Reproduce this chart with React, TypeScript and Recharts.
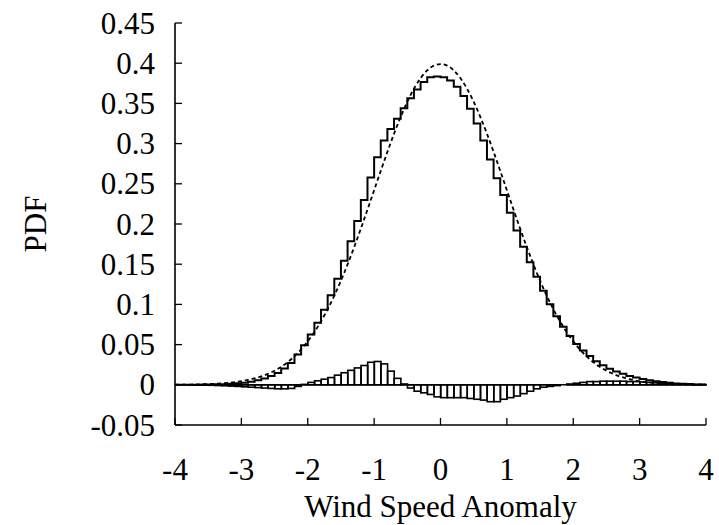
import { ComposedChart, Line, Bar, XAxis, YAxis, ReferenceLine } from "recharts";

// left edges of the 0.1-wide bins, plus the last right edge
const binEdges = [
  -4.0, -3.9, -3.8, -3.7, -3.6, -3.5, -3.4, -3.3, -3.2, -3.1,
  -3.0, -2.9, -2.8, -2.7, -2.6, -2.5, -2.4, -2.3, -2.2, -2.1,
  -2.0, -1.9, -1.8, -1.7, -1.6, -1.5, -1.4, -1.3, -1.2, -1.1,
  -1.0, -0.9, -0.8, -0.7, -0.6, -0.5, -0.4, -0.3, -0.2, -0.1,
  0.0, 0.1, 0.2, 0.3, 0.4, 0.5, 0.6, 0.7, 0.8, 0.9,
  1.0, 1.1, 1.2, 1.3, 1.4, 1.5, 1.6, 1.7, 1.8, 1.9,
  2.0, 2.1, 2.2, 2.3, 2.4, 2.5, 2.6, 2.7, 2.8, 2.9,
  3.0, 3.1, 3.2, 3.3, 3.4, 3.5, 3.6, 3.7, 3.8, 3.9,
  4.0,
];

// dashed reference curve, read at each bin edge
const normalPdf = [
  0.0001, 0.0002, 0.0003, 0.0004, 0.0006, 0.0009, 0.0012, 0.0017, 0.0024, 0.0033,
  0.0044, 0.006, 0.0079, 0.0104, 0.0136, 0.0175, 0.0224, 0.0283, 0.0355, 0.044,
  0.054, 0.0656, 0.079, 0.094, 0.1109, 0.1295, 0.1497, 0.1714, 0.1942, 0.2179,
  0.242, 0.2661, 0.2897, 0.3123, 0.3332, 0.3521, 0.3683, 0.3814, 0.391, 0.397,
  0.3989, 0.397, 0.391, 0.3814, 0.3683, 0.3521, 0.3332, 0.3123, 0.2897, 0.2661,
  0.242, 0.2179, 0.1942, 0.1714, 0.1497, 0.1295, 0.1109, 0.094, 0.079, 0.0656,
  0.054, 0.044, 0.0355, 0.0283, 0.0224, 0.0175, 0.0136, 0.0104, 0.0079, 0.006,
  0.0044, 0.0033, 0.0024, 0.0017, 0.0012, 0.0009, 0.0006, 0.0004, 0.0003, 0.0002,
  0.0001,
];

// step histogram, one value per bin
const histogram = [
  0.0002, 0.0002, 0.0002, 0.0002, 0.0003, 0.0004, 0.0006, 0.0008, 0.0012, 0.0018,
  0.0026, 0.0039, 0.0056, 0.0079, 0.0109, 0.0148, 0.0202, 0.0272, 0.0376, 0.0493,
  0.0626, 0.0771, 0.0933, 0.1113, 0.132, 0.1544, 0.1784, 0.2036, 0.2299, 0.2579,
  0.2831, 0.304, 0.3181, 0.331, 0.3439, 0.3565, 0.3672, 0.3767, 0.3825, 0.3834,
  0.3824, 0.3785, 0.3707, 0.3592, 0.3435, 0.3249, 0.304, 0.2801, 0.257, 0.2361,
  0.2139, 0.1919, 0.1716, 0.1524, 0.1344, 0.117, 0.1003, 0.0853, 0.0721, 0.0606,
  0.0508, 0.0426, 0.0357, 0.0292, 0.0243, 0.0199, 0.0164, 0.0136, 0.0109, 0.0091,
  0.0073, 0.0058, 0.0045, 0.0035, 0.0025, 0.0017, 0.0013, 0.0009, 0.0005, 0.0004,
];

// difference bars (histogram minus curve)
const difference = [
  0, 0, -0.0002, -0.0003, -0.0004, -0.0006, -0.0009, -0.0012, -0.0016, -0.002,
  -0.0025, -0.003, -0.0035, -0.004, -0.0045, -0.005, -0.005, -0.0045, -0.002, 0.0005,
  0.003, 0.005, 0.007, 0.009, 0.012, 0.015, 0.018, 0.021, 0.024, 0.028,
  0.029, 0.026, 0.017, 0.008, 0.001, -0.004, -0.008, -0.01, -0.012, -0.015,
  -0.016, -0.016, -0.016, -0.016, -0.017, -0.018, -0.019, -0.021, -0.021, -0.018,
  -0.016, -0.014, -0.011, -0.008, -0.005, -0.003, -0.002, -0.001, 0, 0.001,
  0.002, 0.003, 0.004, 0.004, 0.0045, 0.0045, 0.0045, 0.0045, 0.004, 0.004,
  0.0035, 0.003, 0.0025, 0.002, 0.0015, 0.001, 0.0008, 0.0005, 0.0003, 0.0002,
];

const xTicks = [-4, -3, -2, -1, 0, 1, 2, 3, 4];
const yTicks = [-0.05, 0, 0.05, 0.1, 0.15, 0.2, 0.25, 0.3, 0.35, 0.4, 0.45];

const data = binEdges.map((x, i) => ({
  x,
  pdf: normalPdf[i],
  hist: i < histogram.length ? histogram[i] : histogram[histogram.length - 1],
  diff: i < difference.length ? difference[i] : null,
}));

const FONT = '"Liberation Serif", "Times New Roman", serif';
const FS = 31;
const W = 719;
const H = 525;
const PLOT_W = 531;
const BIN_PX = PLOT_W / difference.length;
const TICK_LEN = 7;
const Y_GAP = 20;
const X_GAP = 33;

// bar drawn from its bin's left edge over one bin width
const DiffBar = (props: any) => {
  const { x, y, width, height } = props;
  if (!height) return null;
  const left = x + width / 2;
  const top = height < 0 ? y + height : y;
  return (
    <rect
      x={left}
      y={top}
      width={BIN_PX}
      height={Math.abs(height)}
      fill="none"
      stroke="#000"
      strokeWidth={1.6}
    />
  );
};

// ticks point inward, labels sit outside
const LeftTick = ({ x, y, payload }: any) => (
  <g>
    <line x1={x + Y_GAP} x2={x + Y_GAP + TICK_LEN} y1={y} y2={y} stroke="#000" strokeWidth={1.3} />
    <text x={x} y={y} dy="0.34em" textAnchor="end" fontFamily={FONT} fontSize={FS} fill="#000">
      {String(payload.value)}
    </text>
  </g>
);

const BottomTick = ({ x, y, payload }: any) => (
  <g>
    <line x1={x} x2={x} y1={y - X_GAP} y2={y - X_GAP - TICK_LEN} stroke="#000" strokeWidth={1.3} />
    <text x={x} y={y} dy="0.71em" textAnchor="middle" fontFamily={FONT} fontSize={FS} fill="#000">
      {String(payload.value)}
    </text>
  </g>
);

const TopTick = ({ x, y }: any) => (
  <line x1={x} x2={x} y1={y} y2={y + TICK_LEN} stroke="#000" strokeWidth={1.3} />
);

const RightTick = ({ x, y }: any) => (
  <line x1={x} x2={x - TICK_LEN} y1={y} y2={y} stroke="#000" strokeWidth={1.3} />
);

const YLabel = (props: any) => {
  const vb = props.viewBox;
  const cy = vb.y + vb.height / 2;
  return (
    <text
      x={35}
      y={cy}
      transform={`rotate(-90, 35, ${cy})`}
      textAnchor="middle"
      dominantBaseline="central"
      fontFamily={FONT}
      fontSize={FS}
      fill="#000"
    >
      PDF
    </text>
  );
};

const XLabel = (props: any) => {
  const vb = props.viewBox;
  return (
    <text
      x={vb.x + vb.width / 2}
      y={517}
      textAnchor="middle"
      fontFamily={FONT}
      fontSize={FS}
      fill="#000"
    >
      Wind Speed Anomaly
    </text>
  );
};

const axisLine = { stroke: "#000", strokeWidth: 1.6 };

export default function App() {
  // placed at the window's corner so the chart fills the whole window
  return (
    <div style={{ position: "absolute", left: 0, top: 0, width: W, height: H, background: "#fff" }}>
      <ComposedChart
        width={W}
        height={H}
        data={data}
        margin={{ top: 23, right: 13, left: 0, bottom: 0 }}
        barCategoryGap={0}
        barGap={0}
      >
        <XAxis
          dataKey="x"
          type="number"
          domain={[-4, 4]}
          ticks={xTicks}
          interval={0}
          height={100}
          tickSize={0}
          tickMargin={X_GAP}
          tick={<BottomTick />}
          axisLine={axisLine}
          tickLine={false}
          label={<XLabel />}
        />
        <XAxis
          xAxisId="top"
          dataKey="x"
          type="number"
          orientation="top"
          domain={[-4, 4]}
          ticks={xTicks}
          interval={0}
          height={0}
          tickSize={0}
          tickMargin={0}
          tick={<TopTick />}
          axisLine={axisLine}
          tickLine={false}
        />
        <YAxis
          type="number"
          domain={[-0.05, 0.45]}
          ticks={yTicks}
          interval={0}
          width={175}
          tickSize={0}
          tickMargin={Y_GAP}
          tick={<LeftTick />}
          axisLine={axisLine}
          tickLine={false}
          label={<YLabel />}
        />
        <YAxis
          yAxisId="right"
          orientation="right"
          type="number"
          domain={[-0.05, 0.45]}
          ticks={yTicks}
          interval={0}
          width={0}
          tickSize={0}
          tickMargin={0}
          tick={<RightTick />}
          axisLine={axisLine}
          tickLine={false}
        />
        <ReferenceLine y={0} stroke="#000" strokeWidth={1.5} />
        <Bar dataKey="diff" shape={<DiffBar />} isAnimationActive={false} />
        <Line
          type="monotone"
          dataKey="pdf"
          stroke="#000"
          strokeWidth={1.8}
          strokeDasharray="4 3"
          dot={false}
          isAnimationActive={false}
        />
        <Line
          type="stepAfter"
          dataKey="hist"
          stroke="#000"
          strokeWidth={2}
          dot={false}
          isAnimationActive={false}
        />
      </ComposedChart>
    </div>
  );
}
